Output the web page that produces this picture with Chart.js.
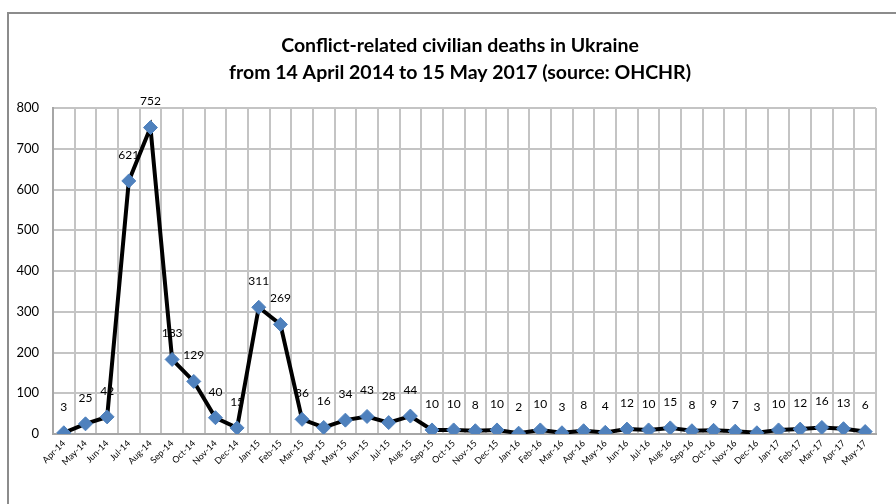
<!DOCTYPE html>
<html>
<head>
<meta charset="utf-8">
<script src="https://cdn.jsdelivr.net/npm/chart.js@4/dist/chart.umd.min.js"></script>
<style>
  html, body { margin: 0; padding: 0; background: #fff; }
  #wrap { position: relative; width: 896px; height: 504px; overflow: hidden; }
  #frame { position: absolute; left: 7px; top: 12px; width: 1000px; height: 600px;
           border-left: 2px solid #8c8c8c; border-top: 2px solid #8c8c8c; }
  canvas { position: absolute; left: 0; top: 0; }
</style>
</head>
<body>
<div id="wrap">
  <div id="frame"></div>
  <canvas id="deathsChart" width="896" height="504"></canvas>
</div>
<script>
const months = [
  'Apr-14', 'May-14', 'Jun-14', 'Jul-14', 'Aug-14', 'Sep-14', 'Oct-14', 'Nov-14', 'Dec-14',
  'Jan-15', 'Feb-15', 'Mar-15', 'Apr-15', 'May-15', 'Jun-15', 'Jul-15', 'Aug-15', 'Sep-15',
  'Oct-15', 'Nov-15', 'Dec-15', 'Jan-16', 'Feb-16', 'Mar-16', 'Apr-16', 'May-16', 'Jun-16',
  'Jul-16', 'Aug-16', 'Sep-16', 'Oct-16', 'Nov-16', 'Dec-16', 'Jan-17', 'Feb-17', 'Mar-17',
  'Apr-17', 'May-17'
];
const deaths = [
  3, 25, 42, 621, 752, 183, 129, 40, 15,
  311, 269, 36, 16, 34, 43, 28, 44, 10,
  10, 8, 10, 2, 10, 3, 8, 4, 12,
  10, 15, 8, 9, 7, 3, 10, 12, 16,
  13, 6
];
const titleLines = [
  'Conflict-related civilian deaths in Ukraine',
  'from 14 April 2014 to 15 May 2017 (source: OHCHR)'
];

// value labels drawn under the line, like the original
const valueLabels = {
  id: 'valueLabels',
  beforeDatasetsDraw(chart) {
    let ctx = chart.ctx;
    let meta = chart.getDatasetMeta(0);
    ctx.save();
    ctx.font = '12px Lato';
    ctx.fillStyle = '#000';
    ctx.textAlign = 'center';
    ctx.textBaseline = 'middle';
    meta.data.forEach((pt, i) => {
      ctx.fillText(String(deaths[i]), pt.x, pt.y - 26);
    });
    ctx.restore();
  }
};

const twoLineTitle = {
  id: 'twoLineTitle',
  afterDraw(chart) {
    let ctx = chart.ctx;
    ctx.save();
    ctx.font = 'bold 19.5px Lato';
    ctx.fillStyle = '#000';
    ctx.textAlign = 'center';
    ctx.textBaseline = 'middle';
    ctx.fillText(titleLines[0], 460, 46);
    ctx.fillText(titleLines[1], 460, 73);
    ctx.restore();
  }
};

new Chart(document.getElementById('deathsChart'), {
  type: 'line',
  data: {
    labels: months,
    datasets: [{
      data: deaths,
      borderColor: '#000',
      borderWidth: 4,
      tension: 0,
      pointStyle: 'rectRot',
      pointRadius: 7,
      pointBorderWidth: 1,
      pointBackgroundColor: '#4f81bd',
      pointBorderColor: '#4f81bd'
    }]
  },
  options: {
    responsive: false,
    animation: false,
    layout: { padding: { top: 108, right: 20, left: 0, bottom: 0 } },
    plugins: {
      legend: { display: false },
      tooltip: { enabled: false },
      title: { display: false }
    },
    scales: {
      x: {
        offset: true,
        grid: { offset: true, color: '#c4c4c4', lineWidth: 2, drawTicks: false },
        border: { color: '#a6a6a6', width: 2 },
        ticks: {
          autoSkip: false, maxRotation: 45, minRotation: 45, padding: 4,
          color: '#000', font: { family: 'Lato', size: 9 }
        },
        afterFit(scale) { scale.height = 70; }
      },
      y: {
        min: 0, max: 800,
        grid: { color: '#c4c4c4', lineWidth: 2, drawTicks: false },
        border: { color: '#a6a6a6', width: 2 },
        ticks: {
          stepSize: 100, padding: 14,
          color: '#000', font: { family: 'Lato', size: 13 }
        },
        afterFit(scale) { scale.width = 53; }
      }
    }
  },
  plugins: [valueLabels, twoLineTitle]
});
</script>
</body>
</html>
